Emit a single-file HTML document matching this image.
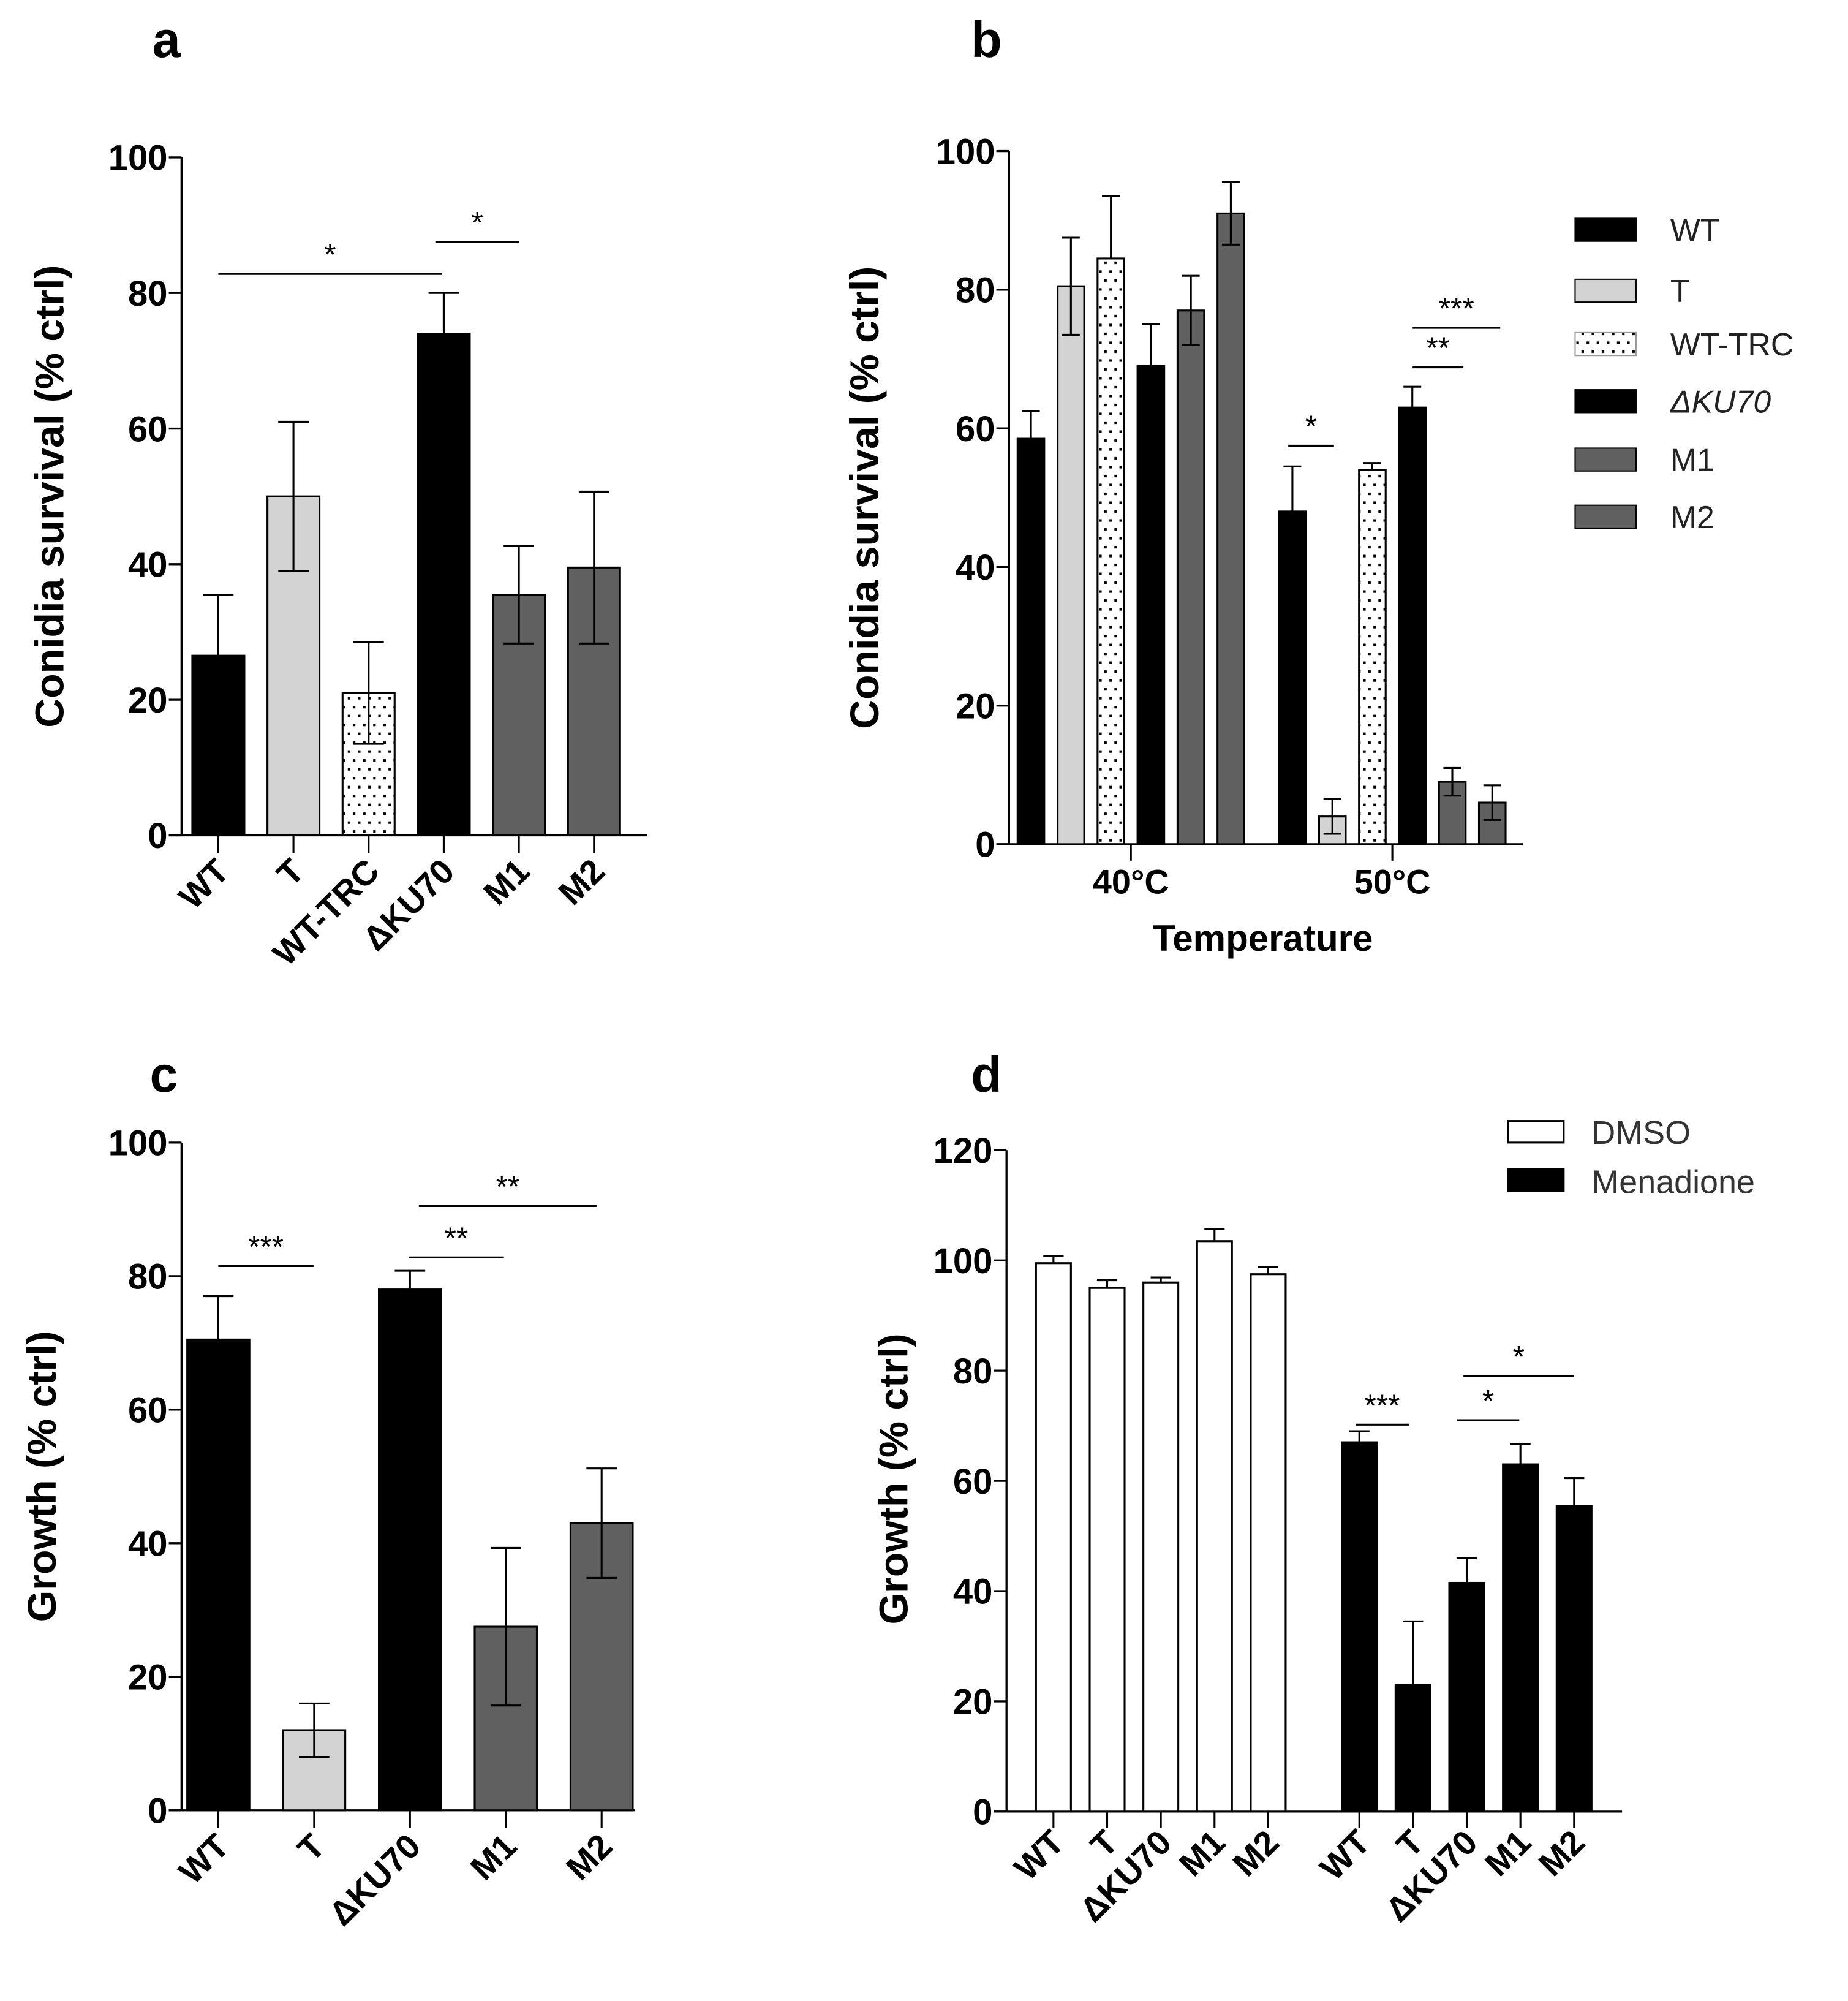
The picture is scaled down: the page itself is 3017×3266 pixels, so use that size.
<!DOCTYPE html>
<html><head><meta charset="utf-8"><style>
html,body{margin:0;padding:0;background:#fff}
svg{display:block}
text{font-family:"Liberation Sans",Arial,sans-serif}
</style></head><body>
<svg id="fig" width="3017" height="3266" viewBox="0 0 1456 1576.2" xmlns="http://www.w3.org/2000/svg">
<defs>
<pattern id="dots" width="8" height="14" patternUnits="userSpaceOnUse">
<rect x="2" y="3" width="2" height="2" fill="#000"/><rect x="6" y="10" width="2" height="2" fill="#000"/>
</pattern>
</defs>
<g id="root"></g>
</svg>
<script>
// Panel a data
const aCats = ["WT","T","WT-TRC","\u0394KU70","M1","M2"];
const aVals = [26.5,50,21,74,35.5,39.5];
const aErr = [9,11,7.5,6,7.2,11.2];
const aTicks = [0,20,40,60,80,100];
// Panel b data
const bGroups = ["40\u00b0C","50\u00b0C"];
const bSeries = ["WT","T","WT-TRC","\u0394KU70","M1","M2"];
const b40 = [58.5,80.5,84.5,69,77,91];
const b50 = [48,4,54,63,9,6];
const b40Err = [4,7,9,6,5,4.5];
const b50Err = [6.5,2.5,1,3,2,2.5];
const bTicks = [0,20,40,60,80,100];
// Panel c data
const cCats = ["WT","T","\u0394KU70","M1","M2"];
const cVals = [70.5,12,78,27.5,43];
const cErr = [6.5,4,2.8,11.8,8.2];
const cTicks = [0,20,40,60,80,100];
// Panel d data
const dCats = ["WT","T","\u0394KU70","M1","M2"];
const dDmso = [99.5,95,96,103.5,97.5];
const dDmsoErr = [1.3,1.4,0.9,2.2,1.3];
const dMen = [67,23,41.5,63,55.5];
const dMenErr = [2,11.5,4.5,3.7,5];
const dTicks = [0,20,40,60,80,100,120];

const NS="http://www.w3.org/2000/svg";
const root=document.getElementById('root');
function el(tag,attrs,parent){const e=document.createElementNS(NS,tag);for(const k in attrs)e.setAttribute(k,attrs[k]);(parent||root).appendChild(e);return e;}
function txt(s,attrs,parent){const e=el('text',attrs,parent);e.textContent=s;return e;}
const fills=["#000","#d3d3d3","url(#dots)","#000","#606060","#606060"];

function yAxis(g,x0,y0,ytop,max,ticks,xEnd){
  const sc=v=>y0-v*(y0-ytop)/max;
  const ax=el('line',{x1:x0,y1:ytop,x2:x0,y2:y0,stroke:'#000','stroke-width':1.6},g);
  
  
  const xa=el('line',{x1:x0-10,y1:y0,x2:xEnd,y2:y0,stroke:'#000','stroke-width':1.6},g);
  
  
  ticks.forEach(t=>{
    el('line',{x1:x0-10,y1:sc(t),x2:x0,y2:sc(t),stroke:'#000','stroke-width':1.6},g);
    const tl=txt(String(t),{x:x0-11,y:sc(t)+10,'text-anchor':'end','font-size':28,'font-weight':'bold'},g);
    
    
  });
  return sc;
}
function bar(g,cx,w,v,err,sc,fill,lowerErr,cap){
  const r=el('rect',{x:cx-w/2,y:sc(v),width:w,height:sc(0)-sc(v),fill:fill,stroke:'#000','stroke-width':1.5},g);
  
  
  const lo=lowerErr?v-err:v;
  el('line',{x1:cx,y1:sc(v+err),x2:cx,y2:sc(lo),stroke:'#000','stroke-width':1.5},g);
  el('line',{x1:cx-cap/2,y1:sc(v+err),x2:cx+cap/2,y2:sc(v+err),stroke:'#000','stroke-width':1.5},g);
  if(lowerErr)el('line',{x1:cx-cap/2,y1:sc(lo),x2:cx+cap/2,y2:sc(lo),stroke:'#000','stroke-width':1.5},g);
}
function xLabel(g,cx,y,s){
  const t=txt(s,{x:0,y:0,'text-anchor':'end','font-size':27,'font-weight':'bold',transform:`translate(${cx+10},${y}) rotate(-45)`},g);
  
  
}
function sig(g,x1,x2,y,s){
  el('line',{x1:x1,y1:y,x2:x2,y2:y,stroke:'#000','stroke-width':1.5},g);
  const t=txt(s,{x:(x1+x2)/2,y:y-7,'text-anchor':'middle','font-size':24},g);
  
  
}
function title(g,x,y,s){
  const t=txt(s,{x:0,y:0,'text-anchor':'middle','font-size':32,'font-weight':'bold',transform:`translate(${x},${y}) rotate(-90)`},g);
  
  
}
function plabel(g,x,y,s){
  const t=txt(s,{x:x,y:y,'font-size':40,'font-weight':'bold'},g);
  
  
}

// Panel a
(function(){
  const g=el('g',{});
  
  
  plabel(g,120,45,'a');
  const sc=yAxis(g,143,658,124,100,aTicks,510);
  aCats.forEach((c,i)=>{
    const cx=172+i*59.2;
    bar(g,cx,41,aVals[i],aErr[i],sc,fills[i],i!==0&&i!==3,24);
    el('line',{x1:cx,y1:658,x2:cx,y2:672,stroke:'#000','stroke-width':1.5},g);
    xLabel(g,cx,688,c);
  });
  sig(g,172,348,sc(82.8),'*');
  sig(g,343,409,sc(87.5),'*');
  title(g,50,391,'Conidia survival (% ctrl)');
})();

// Panel b
(function(){
  const g=el('g',{});
  
  
  plabel(g,765,45,'b');
  const sc=yAxis(g,795,665,119,100,bTicks,1200);
  const gc=[891,1097];
  [b40,b50].forEach((vals,gi)=>{
    const errs=gi===0?b40Err:b50Err;
    vals.forEach((v,i)=>{
      const cx=gc[gi]+(i-2.5)*31.5;
      bar(g,cx,21,v,errs[i],sc,fills[i],i===1||i===4||i===5,14);
    });
    el('line',{x1:gc[gi],y1:665,x2:gc[gi],y2:678,stroke:'#000','stroke-width':1.5},g);
    const t=txt(bGroups[gi],{x:gc[gi],y:704,'text-anchor':'middle','font-size':27,'font-weight':'bold'},g);
    
    
  });
  const xt=txt('Temperature',{x:995,y:749,'text-anchor':'middle','font-size':29,'font-weight':'bold'},g);
  
  
  title(g,692,392,'Conidia survival (% ctrl)');
  sig(g,1015,1051,sc(57.5),'*');
  sig(g,1113,1153,sc(68.8),'**');
  sig(g,1113,1182,sc(74.5),'***');
  const lg=el('g',{},g);
  
  
  const ly=[181,229,271,316,362,407];
  bSeries.forEach((s,i)=>{
    el('rect',{x:1241,y:ly[i]-9,width:48,height:18,fill:fills[i],stroke:i===2?'#999':'#000','stroke-width':1},lg);
    const t=txt(s,{x:1316,y:ly[i]+9,'font-size':25,'fill':'#222','font-style':i===3?'italic':'normal'},lg);
    
    
  });
})();

// Panel c
(function(){
  const g=el('g',{});
  
  
  plabel(g,118,860,'c');
  const sc=yAxis(g,143,1426,900,100,cTicks,500);
  const cf=["#000","#d3d3d3","#000","#606060","#606060"];
  cCats.forEach((c,i)=>{
    const cx=172+i*75.5;
    bar(g,cx,49,cVals[i],cErr[i],sc,cf[i],i===1||i===3||i===4,24);
    el('line',{x1:cx,y1:1426,x2:cx,y2:1440,stroke:'#000','stroke-width':1.5},g);
    xLabel(g,cx,1456,c);
  });
  sig(g,172,247,sc(81.5),'***');
  sig(g,322,397,sc(82.8),'**');
  sig(g,330,470,sc(90.5),'**');
  title(g,44,1163,'Growth (% ctrl)');
})();

// Panel d
(function(){
  const g=el('g',{});
  
  
  plabel(g,765,860,'d');
  const sc=yAxis(g,793,1427,906,120,dTicks,1278);
  dCats.forEach((c,i)=>{
    const cx=830+i*42.3;
    bar(g,cx,27.5,dDmso[i],dDmsoErr[i],sc,'#fff',false,16);
    el('line',{x1:cx,y1:1427,x2:cx,y2:1440,stroke:'#000','stroke-width':1.5},g);
    xLabel(g,cx,1453,c);
  });
  dCats.forEach((c,i)=>{
    const cx=1071+i*42.3;
    bar(g,cx,27.5,dMen[i],dMenErr[i],sc,'#000',false,16);
    el('line',{x1:cx,y1:1427,x2:cx,y2:1440,stroke:'#000','stroke-width':1.5},g);
    xLabel(g,cx,1453,c);
  });
  sig(g,1068,1110,sc(70.2),'***');
  sig(g,1148,1197,sc(71),'*');
  sig(g,1153,1240,sc(79),'*');
  title(g,715,1165,'Growth (% ctrl)');
  const lg=el('g',{},g);
  
  
  el('rect',{x:1188,y:883,width:44,height:17,fill:'#fff',stroke:'#000','stroke-width':1.5},lg);
  el('rect',{x:1188,y:921,width:44,height:17,fill:'#000',stroke:'#000','stroke-width':1.5},lg);
  const t1=txt('DMSO',{x:1254,y:901,'font-size':26,fill:'#333'},lg);
  
  
  const t2=txt('Menadione',{x:1254,y:940,'font-size':26,fill:'#333'},lg);
  
  
})();
</script>
</body></html>
